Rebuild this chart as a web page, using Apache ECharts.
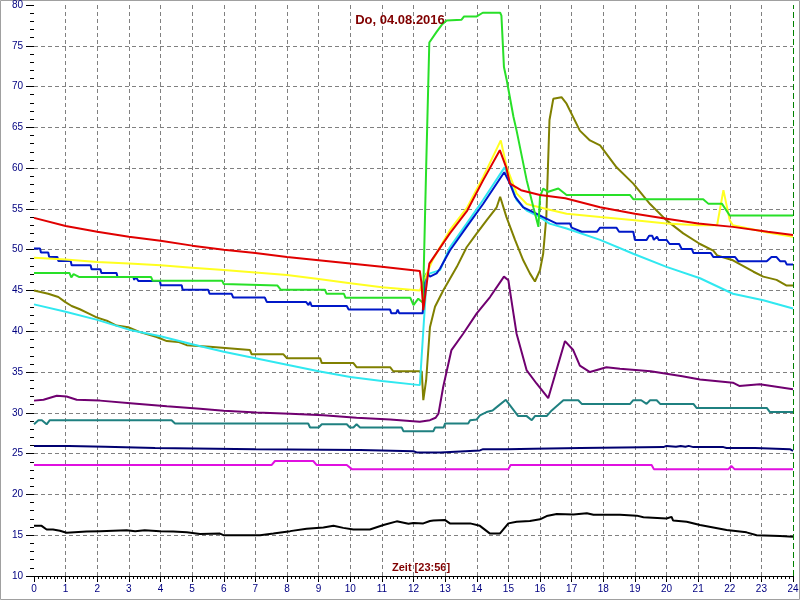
<!DOCTYPE html>
<html>
<head>
<meta charset="utf-8">
<script src="https://cdn.jsdelivr.net/npm/echarts@6/dist/echarts.min.js"></script>
<style>
html,body{margin:0;padding:0;background:#fff;}
#chart{width:800px;height:600px;}
</style>
</head>
<body>
<div id="chart"></div>
<script>
// ---- data: [hour, °C] ----
const titleText = "Do, 04.08.2016";
const timeText = "Zeit [23:56]";
const yUnit = "°C";

const redData = [[0,53.9],[1,52.9],[2,52.2],[3,51.6],[4,51.1],[5,50.5],[6,50],[7,49.6],[8,49.1],[9,48.7],[10,48.3],[11,47.9],[12.2,47.4],[12.25,46],[12.31,42.6],[12.5,48.3],[13.15,52],[13.7,54.8],[14.2,58.5],[14.73,62.2],[14.93,60.1],[15.05,58.1],[15.4,57.3],[16,56.7],[16.8,56.3],[17.9,55.2],[19,54.4],[20,53.8],[21,53.2],[22.1,52.8],[23.2,52.2],[24,51.8]];

const yellowData = [[0,49],[1,48.8],[2,48.5],[3,48.3],[4,48.1],[5,47.8],[6,47.5],[7,47.2],[8,46.9],[9,46.4],[10,45.9],[11,45.4],[12.2,45],[12.3,46],[12.6,48.7],[13.15,52.4],[13.7,55.2],[14.2,58.9],[14.76,63.4],[14.95,60.1],[15.26,56.9],[15.58,55.6],[16.2,55.0],[16.84,54.4],[17.9,54],[19,53.6],[20,53.2],[21,53],[21.6,53],[21.8,57.3],[22,53.6],[22.1,53],[23.2,52.1],[24,51.6]];

const greenData = [[0,47.15],[1.12,47.15],[1.18,46.6],[1.25,47.0],[1.42,46.66],[3.7,46.66],[3.75,46.2],[5.95,46.2],[6.0,45.8],[6.05,45.6],[7.7,45.6],[7.8,45.1],[9.2,45.1],[9.25,44.6],[9.8,44.6],[9.85,44.1],[11.9,44.1],[12.0,43.2],[12.15,44.0],[12.3,43.5],[12.4,60],[12.5,75.4],[12.73,76.7],[12.9,77.6],[13.05,78.1],[13.52,78.2],[13.6,78.6],[14.0,78.6],[14.19,79.05],[14.74,79.05],[14.78,78.7],[14.86,72.4],[14.95,70.75],[15.16,66.3],[15.26,64.6],[15.58,58.5],[15.79,55.2],[15.95,52.8],[16.0,56.5],[16.1,57.5],[16.26,57.1],[16.58,57.5],[16.84,56.7],[18.85,56.7],[18.95,56.2],[21.16,56.2],[21.32,55.65],[21.75,55.65],[22,54.2],[24,54.2]];

const blueData = [[0,50.14],[0.19,50.14],[0.22,49.65],[0.45,49.65],[0.48,49.1],[0.74,49.1],[0.77,48.62],[1.16,48.62],[1.19,48.1],[1.79,48.1],[1.82,47.6],[2.1,47.6],[2.13,47.15],[2.61,47.15],[2.64,46.66],[3.14,46.66],[3.17,46.3],[3.22,46.66],[3.3,46.17],[3.98,46.17],[4.01,45.64],[4.67,45.64],[4.7,45.1],[5.51,45.1],[5.55,44.6],[6.25,44.6],[6.3,44.13],[7.3,44.13],[7.36,43.6],[8.6,43.6],[8.68,43.2],[8.73,43.6],[8.78,43.1],[9.89,43.1],[9.95,42.66],[11.26,42.66],[11.3,42.2],[11.45,42.2],[11.5,42.66],[11.55,42.2],[12.29,42.2],[12.36,46.7],[12.42,47.1],[12.52,46.7],[12.73,47.1],[12.84,47.7],[13.15,49.9],[13.68,52.8],[14.2,55.6],[14.87,59.5],[15.05,58.1],[15.21,56.5],[15.47,55.2],[15.79,54.6],[16.1,54.0],[16.53,53.2],[16.95,53.2],[17.0,52.7],[17.32,52.2],[17.8,52.2],[17.9,52.7],[18.42,52.7],[18.5,52.2],[18.95,52.2],[19.0,51.2],[19.37,51.2],[19.45,51.7],[19.55,51.7],[19.6,51.2],[19.7,51.6],[19.75,51.2],[20.0,51.2],[20.1,50.7],[20.4,50.7],[20.48,50.1],[20.8,50.1],[20.85,49.6],[21.4,49.6],[21.48,49.1],[22.17,49.1],[22.27,48.6],[23.17,48.6],[23.32,49.1],[23.48,49.1],[23.59,48.6],[23.75,48.6],[23.8,48.2],[24,48.2]];

const cyanData = [[0,43.3],[1,42.4],[2,41.4],[3,40.2],[4,39.4],[5,38.4],[6,37.5],[7,36.7],[8,35.9],[9,35.1],[10,34.4],[11,33.9],[12.2,33.4],[12.31,40.1],[12.42,46.7],[12.52,47.1],[12.84,47.5],[13.15,50.3],[13.68,53.2],[14.2,56.1],[14.88,60.1],[15.05,58.5],[15.26,56.1],[15.58,54.8],[16,54.0],[16.3,53.2],[16.84,52.6],[17.9,51.2],[18.95,49.5],[20,47.9],[21.06,46.5],[22.1,44.6],[23.06,43.8],[24,42.8]];

const oliveData = [[0,45],[0.45,44.6],[0.77,44.2],[0.98,43.6],[1.19,43.1],[1.45,42.7],[1.72,42.2],[1.98,41.7],[2.3,41.3],[2.61,40.7],[2.98,40.5],[3.35,39.9],[3.88,39.3],[4.2,38.8],[4.56,38.7],[4.83,38.3],[5.56,38.1],[6.83,37.7],[6.88,37.2],[7.88,37.2],[8.0,36.7],[9.05,36.7],[9.1,36.1],[10.1,36.1],[10.2,35.6],[11.26,35.6],[11.36,35.1],[12.26,35.1],[12.31,31.55],[12.4,34],[12.52,40.5],[12.68,43],[12.94,45],[13.37,47.9],[13.68,50.3],[14,52],[14.31,53.6],[14.63,55.2],[14.74,56.5],[14.94,54],[15.21,51.2],[15.47,48.7],[15.68,47.1],[15.84,46.1],[16.0,47.5],[16.1,49.5],[16.2,54],[16.3,65.9],[16.42,68.5],[16.68,68.7],[16.84,67.9],[17.26,64.6],[17.58,63.4],[17.9,62.8],[18.42,60.1],[18.95,58.1],[19.48,55.6],[20,53.6],[20.53,52],[21.06,50.7],[21.48,49.9],[21.6,49.3],[22.1,48.7],[22.75,47.3],[23.06,46.7],[23.48,46.3],[23.8,45.6],[24,45.6]];

const purpleData = [[0,31.5],[0.3,31.6],[0.72,32.1],[1.03,32.0],[1.35,31.6],[2.09,31.5],[3.14,31.15],[4.2,30.8],[5.25,30.5],[6,30.25],[7.04,30.05],[8.1,29.9],[9.15,29.7],[10.2,29.4],[11.26,29.2],[12.2,28.9],[12.52,29.1],[12.7,29.4],[12.79,29.9],[12.94,33.2],[13.2,37.7],[13.57,39.7],[14,42.2],[14.42,44.2],[14.86,46.7],[15,46.25],[15.16,42.2],[15.26,39.7],[15.58,35.2],[15.89,33.6],[16.26,31.8],[16.79,38.8],[17.05,37.7],[17.26,35.8],[17.58,35.0],[18.1,35.6],[18.53,35.4],[19.5,35.1],[20.5,34.5],[21.06,34.1],[22.1,33.7],[22.3,33.3],[22.95,33.5],[24,32.9]];

const tealData = [[0,28.6],[0.14,29.1],[0.25,29.1],[0.4,28.6],[0.5,29.1],[4.35,29.1],[4.46,28.7],[8.67,28.7],[8.73,28.2],[9.0,28.2],[9.1,28.6],[9.89,28.6],[9.99,28.2],[10.1,28.2],[10.2,28.6],[10.25,28.6],[10.31,28.2],[11.63,28.2],[11.68,27.75],[12.63,27.75],[12.68,28.2],[12.95,28.2],[13.0,28.7],[13.73,28.7],[13.79,29.1],[14.0,29.2],[14.1,29.7],[14.31,30.1],[14.5,30.3],[14.63,30.7],[14.92,31.6],[15.31,29.6],[15.58,29.6],[15.74,29.1],[15.84,29.6],[16.21,29.6],[16.37,30.3],[16.74,31.55],[17.21,31.55],[17.32,31.1],[18.85,31.1],[18.95,31.55],[19.2,31.55],[19.37,31.1],[19.48,31.55],[19.69,31.55],[19.8,31.1],[20.85,31.1],[20.95,30.6],[23.17,30.6],[23.27,30.1],[24,30.1]];

const navyData = [[0,25.95],[1.1,25.95],[1.14,25.85],[2.25,25.85],[2.3,25.7],[3.83,25.7],[3.88,25.55],[7.0,25.55],[7.04,25.45],[10.31,25.45],[10.36,25.3],[12.0,25.3],[12.1,25.15],[12.85,25.15],[12.9,25.35],[14.1,25.4],[14.2,25.55],[14.95,25.55],[15.0,25.6],[15.8,25.6],[15.84,25.7],[17.28,25.7],[17.32,25.8],[19.9,25.8],[20.0,25.95],[20.3,25.85],[20.45,25.95],[20.6,25.85],[20.7,25.95],[20.85,25.8],[21.8,25.8],[21.9,25.7],[22.8,25.7],[22.85,25.55],[23.9,25.55],[24,25.35]];

const magentaData = [[0,23.6],[7.51,23.6],[7.62,24.1],[8.83,24.1],[8.94,23.6],[9.89,23.6],[10.05,23.1],[15.0,23.1],[15.07,23.6],[19.53,23.6],[19.6,23.1],[21.96,23.1],[22.05,23.5],[22.15,23.1],[24,23.1]];

const blackData = [[0,16.15],[0.24,16.15],[0.4,15.7],[0.6,15.7],[0.82,15.55],[1.03,15.3],[1.66,15.45],[2.09,15.5],[2.93,15.6],[3.2,15.5],[3.5,15.6],[3.98,15.5],[4.4,15.45],[4.83,15.35],[5.25,15.15],[5.88,15.2],[5.99,15.0],[7.15,15.0],[7.57,15.2],[8.1,15.5],[8.62,15.8],[9.15,15.95],[9.47,16.15],[9.78,15.9],[10.1,15.7],[10.62,15.7],[11.05,16.25],[11.47,16.7],[11.84,16.4],[12.0,16.5],[12.31,16.45],[12.52,16.75],[12.63,16.8],[13.0,16.85],[13.15,16.45],[13.79,16.45],[14.1,16.15],[14.42,15.2],[14.73,15.2],[15.0,16.45],[15.26,16.65],[15.68,16.75],[16.0,16.95],[16.21,17.35],[16.53,17.6],[17.06,17.55],[17.48,17.7],[17.69,17.5],[18.53,17.5],[19.06,17.4],[19.27,17.2],[20.0,17.05],[20.16,17.25],[20.21,16.8],[20.64,16.65],[21.06,16.25],[21.9,15.65],[22.53,15.35],[22.85,15.0],[23.59,14.9],[24,14.8]];

const nowHour = 24;

// ---- chart ----
const seriesDefs = [
  {name:'black', data:blackData, color:'#000000'},
  {name:'magenta', data:magentaData, color:'#e010e0'},
  {name:'navy', data:navyData, color:'#000070'},
  {name:'teal', data:tealData, color:'#1f8080'},
  {name:'purple', data:purpleData, color:'#700070'},
  {name:'olive', data:oliveData, color:'#808000'},
  {name:'cyan', data:cyanData, color:'#30e8f0'},
  {name:'blue', data:blueData, color:'#0018c8'},
  {name:'yellow', data:yellowData, color:'#ffff20'},
  {name:'green', data:greenData, color:'#28e028'},
  {name:'red', data:redData, color:'#e00000'}
];

const chart = echarts.init(document.getElementById('chart'), null, {renderer:'canvas'});
const series = seriesDefs.map(function(s){
  return {
    name: s.name, type:'line', data: s.data, showSymbol:false, symbol:'none',
    lineStyle:{color:s.color, width:2}, itemStyle:{color:s.color},
    animation:false, silent:true
  };
});
series[series.length-1].markLine = {
  silent:true, symbol:'none', label:{show:false}, animation:false,
  lineStyle:{color:'#008000', type:[6,3], width:1},
  data:[{xAxis: nowHour}]
};

chart.setOption({
  animation:false,
  backgroundColor:'#ffffff',
  title:{text:titleText, left:'center', top:9,
    textStyle:{color:'#800000', fontSize:13, fontWeight:'bold', fontFamily:'Arial'}},
  grid:{left:34, right:7, top:5, bottom:24, containLabel:false, outerBoundsMode:'none'},
  xAxis:{
    type:'value', min:0, max:24, interval:1,
    axisLine:{show:true, onZero:false, lineStyle:{color:'#000', width:1}},
    axisTick:{show:true, length:6, lineStyle:{color:'#000'}},
    minorTick:{show:true, splitNumber:8, length:3, lineStyle:{color:'#000'}},
    axisLabel:{color:'#000080', fontSize:10, margin:8, fontFamily:'Arial'},
    splitLine:{show:true, showMinLine:false, showMaxLine:false, lineStyle:{color:'#808080', type:[4,3], width:1}}
  },
  yAxis:{
    type:'value', min:10, max:80, interval:5,
    name:yUnit, nameLocation:'middle', nameGap:18, nameRotate:90,
    nameTextStyle:{color:'#800000', fontSize:12, fontFamily:'Arial'},
    axisLine:{show:false},
    axisTick:{show:true, length:8, lineStyle:{color:'#000'}},
    minorTick:{show:true, splitNumber:5, length:4, lineStyle:{color:'#000'}},
    axisLabel:{color:'#000080', fontSize:10, margin:11, fontFamily:'Arial'},
    splitLine:{show:true, showMinLine:false, showMaxLine:false, lineStyle:{color:'#808080', type:[4,3], width:1}}
  },
  graphic:[
    {type:'text', left:392, top:562, silent:true,
      style:{text:timeText, fill:'#800000', font:'bold 11px Arial'}},
    {type:'rect', silent:true, shape:{x:0.5, y:0.5, width:799, height:599},
      style:{fill:null, stroke:'#a0a0a0', lineWidth:1}}
  ],
  series: series
});
</script>
</body>
</html>
